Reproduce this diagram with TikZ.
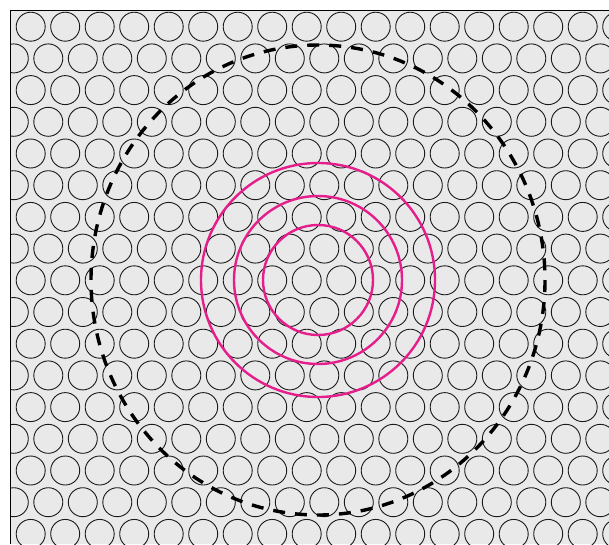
\documentclass[tikz,border=0pt]{standalone}
\usepackage{tikz}
\definecolor{Plate}{HTML}{E9E9E9}
\definecolor{Ring}{HTML}{E61E8C}
\definecolor{Ink}{HTML}{1A1A1A}
\tikzset{
  cell/.style={draw=Ink,line width=0.9pt},
  ring/.style={draw=Ring,line width=2.4pt},
  zone/.style={draw=black,line width=3.4pt,dash pattern=on 12pt off 10pt},
  frame/.style={draw=black,line width=1pt}
}

\begin{document}
\begin{tikzpicture}[x=1pt,y=-1pt]
  \useasboundingbox (0,0) rectangle (609,544);
  \fill[Plate] (10,10) rectangle (609,544);
  % packed cells
  \begin{scope}
    \clip (10,10) rectangle (609,544);
    \foreach \r in {0,...,16} {
      \pgfmathsetmacro{\rowy}{26.7+31.7*\r}
      \pgfmathsetmacro{\rowx}{mod(\r,2)==0 ? 30.7 : 13.8}
      \foreach \c in {0,...,17}
        \draw[cell] (\rowx+34.5*\c,\rowy) circle[radius=14.5];
    }
  \end{scope}
  \draw[frame] (10,544) -- (10,10) -- (609,10);
  % rings round the focus
  \coordinate (focus) at (318,280);
  \draw[zone] (focus) ellipse[x radius=227,y radius=235];
  \foreach \rad in {55,84,117}
    \draw[ring] (focus) circle[radius=\rad];
\end{tikzpicture}
\end{document}
